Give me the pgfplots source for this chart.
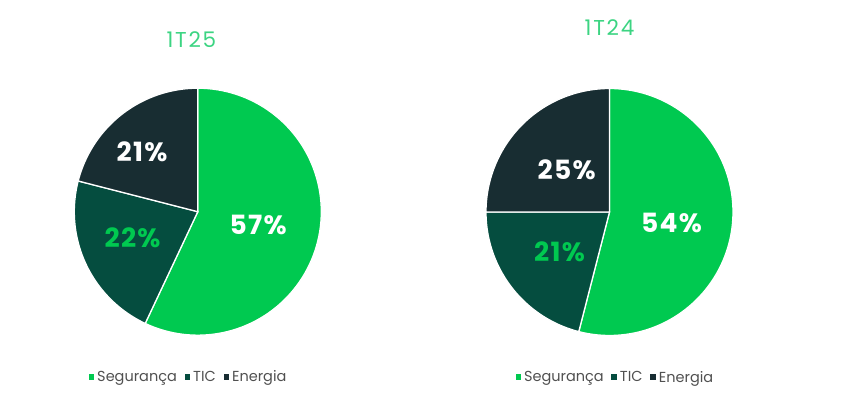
\documentclass[border=0pt]{standalone}
\usepackage{pgfplots}
\usepackage{pgfplotstable}
\usepackage{fontspec}
\setmainfont{Poppins}
\pgfplotsset{compat=1.18}
\definecolor{cSeg}{RGB}{0,201,80}
\definecolor{cTIC}{RGB}{5,77,63}
\definecolor{cEne}{RGB}{24,45,50}
\definecolor{cTitle}{RGB}{60,212,130}
\definecolor{cLeg}{RGB}{80,80,80}

\pgfplotstableread{
cat value
Seguranca 57
TIC 22
Energia 21
}\dataA
\pgfplotstableread{
cat value
Seguranca 54
TIC 21
Energia 25
}\dataB

\newfontfamily\labfont[LetterSpace=5]{Poppins}
\newfontfamily\titfont[LetterSpace=8]{Poppins}

\tikzset{
  lab/.style={font=\labfont\fontsize{26.5bp}{28bp}\selectfont\bfseries},
  tit/.style={font=\titfont\fontsize{21.5bp}{24bp}\selectfont, text=cTitle},
  slice/.style={draw=white, line width=1.3pt},
}

\pgfplotsset{
  pieaxis/.style={
    scale only axis, width=247bp, height=247bp,
    xmin=-1, xmax=1, ymin=-1, ymax=1, hide axis, anchor=center, clip=false,
    legend columns=3,
    legend style={draw=none, fill=none, inner sep=0pt, font=\fontsize{14.5bp}{16bp}\selectfont, text=cLeg,
      nodes={inner sep=1.5bp}, /tikz/every even column/.append style={column sep=5bp}},
    legend image code/.code={\fill[##1] (0bp,-3.5bp) rectangle (7bp,3.5bp);},
  },
}

\newcommand{\getvals}[1]{%
  \pgfplotstablegetelem{0}{value}\of#1\let\vS\pgfplotsretval
  \pgfplotstablegetelem{1}{value}\of#1\let\vT\pgfplotsretval
  \pgfplotstablegetelem{2}{value}\of#1\let\vE\pgfplotsretval
  \pgfmathsetmacro\angA{90-3.6*\vS}%
  \pgfmathsetmacro\angB{\angA-3.6*\vT}%
}

\begin{document}
\begin{tikzpicture}
\path[use as bounding box] (0,0) rectangle (866bp,398bp);

\getvals{\dataA}
\begin{axis}[pieaxis, at={(197.8bp,186.3bp)},
  legend style={at={(0.459,-0.169)}, anchor=center}]
\addplot[slice, samples=90, fill=cSeg, domain=\angA:90] ({cos(x)},{sin(x)}) -- (axis cs:0,0) -- cycle;
\addplot[slice, samples=90, fill=cTIC, domain=\angB:\angA] ({cos(x)},{sin(x)}) -- (axis cs:0,0) -- cycle;
\addplot[slice, samples=90, fill=cEne, domain=-270:\angB] ({cos(x)},{sin(x)}) -- (axis cs:0,0) -- cycle;
\legend{Segurança, TIC, Energia}
\node[lab, text=white] at (axis cs:0.488,-0.110) {\vS\%};
\node[lab, text=cSeg] at (axis cs:-0.528,-0.207) {\vT\%};
\node[lab, text=white] at (axis cs:-0.451,0.488) {\vE\%};
\node[tit] at (axis description cs:0.474,1.197) {1T25};
\end{axis}

\getvals{\dataB}
\begin{axis}[pieaxis, at={(609.5bp,186bp)},
  legend style={at={(0.52,-0.169)}, anchor=center}]
\addplot[slice, samples=90, fill=cSeg, domain=\angA:90] ({cos(x)},{sin(x)}) -- (axis cs:0,0) -- cycle;
\addplot[slice, samples=90, fill=cTIC, domain=\angB:\angA] ({cos(x)},{sin(x)}) -- (axis cs:0,0) -- cycle;
\addplot[slice, samples=90, fill=cEne, domain=-270:\angB] ({cos(x)},{sin(x)}) -- (axis cs:0,0) -- cycle;
\legend{Segurança, TIC, Energia}
\node[lab, text=white] at (axis cs:0.502,-0.086) {\vS\%};
\node[lab, text=cSeg] at (axis cs:-0.404,-0.324) {\vT\%};
\node[lab, text=white] at (axis cs:-0.347,0.343) {\vE\%};
\node[tit] at (axis description cs:0.50,1.245) {1T24};
\end{axis}
\end{tikzpicture}
\end{document}
